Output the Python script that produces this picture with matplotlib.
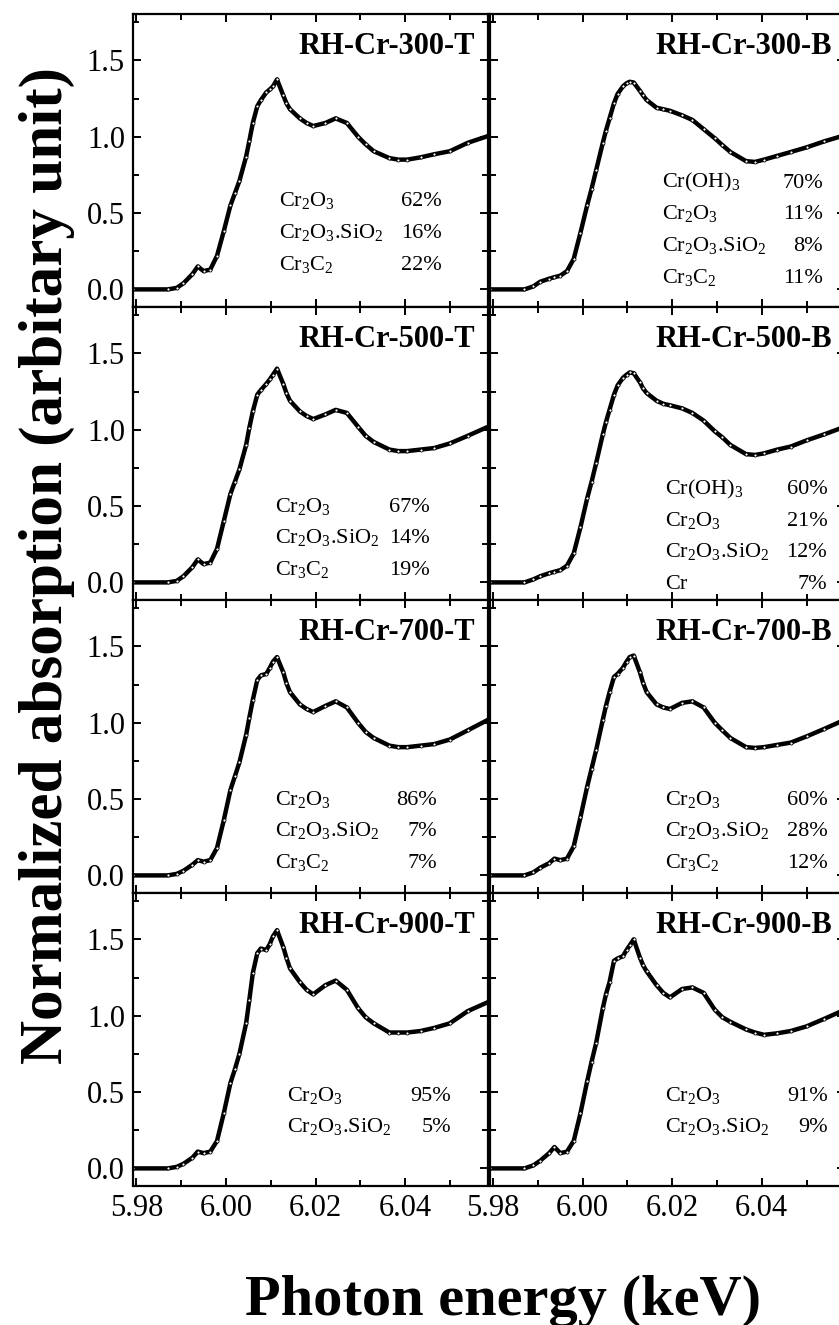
#! /usr/bin/env python3

import matplotlib
matplotlib.use('Agg')
import matplotlib.pyplot as plt
from matplotlib.ticker import MultipleLocator, FormatStrFormatter

plt.rcParams['font.family'] = 'Liberation Serif'
plt.rcParams['mathtext.fontset'] = 'custom'
plt.rcParams['mathtext.rm'] = 'Liberation Serif'
plt.rcParams['mathtext.it'] = 'Liberation Serif:italic'
plt.rcParams['mathtext.bf'] = 'Liberation Serif:bold'

# photon energy grid (keV)
energy = [5.9793, 5.987, 5.989, 5.9905, 5.9925, 5.9937, 5.995, 5.9965, 5.998, 5.9995,
          6.001, 6.002, 6.003, 6.0045, 6.0052, 6.006, 6.007, 6.0078, 6.009, 6.0098,
          6.0105, 6.0114, 6.0128, 6.0135, 6.0143, 6.0165, 6.018, 6.0195, 6.0222, 6.0245,
          6.027, 6.0295, 6.0312, 6.033, 6.0365, 6.0385, 6.0405, 6.0435, 6.0465, 6.05,
          6.054, 6.0586]

mu_300T = [0, 0, 0.01, 0.04, 0.10, 0.15, 0.12, 0.13, 0.22, 0.38,
           0.55, 0.63, 0.71, 0.87, 0.97, 1.09, 1.20, 1.24, 1.29, 1.31,
           1.33, 1.375, 1.27, 1.22, 1.18, 1.12, 1.09, 1.07, 1.09, 1.12,
           1.09, 1.00, 0.95, 0.905, 0.86, 0.85, 0.85, 0.865, 0.885, 0.905,
           0.96, 1.005]
mu_500T = [0, 0, 0.01, 0.04, 0.10, 0.15, 0.12, 0.13, 0.22, 0.40,
           0.58, 0.66, 0.74, 0.90, 1.01, 1.12, 1.23, 1.26, 1.30, 1.33,
           1.36, 1.40, 1.30, 1.24, 1.19, 1.12, 1.09, 1.07, 1.10, 1.13,
           1.11, 1.02, 0.96, 0.92, 0.87, 0.86, 0.86, 0.87, 0.88, 0.91,
           0.96, 1.02]
mu_700T = [0, 0, 0.01, 0.03, 0.07, 0.10, 0.09, 0.10, 0.18, 0.36,
           0.56, 0.65, 0.74, 0.92, 1.03, 1.15, 1.28, 1.31, 1.32, 1.36,
           1.40, 1.43, 1.33, 1.26, 1.20, 1.12, 1.09, 1.07, 1.11, 1.14,
           1.10, 1.00, 0.94, 0.90, 0.85, 0.84, 0.84, 0.85, 0.86, 0.89,
           0.95, 1.02]
mu_900T = [0, 0, 0.01, 0.03, 0.07, 0.11, 0.10, 0.11, 0.18, 0.36,
           0.56, 0.65, 0.75, 0.95, 1.10, 1.28, 1.41, 1.44, 1.43, 1.47,
           1.52, 1.56, 1.45, 1.38, 1.31, 1.22, 1.17, 1.14, 1.20, 1.23,
           1.17, 1.05, 0.99, 0.95, 0.89, 0.89, 0.89, 0.90, 0.92, 0.95,
           1.03, 1.09]
mu_300B = [0, 0, 0.02, 0.05, 0.07, 0.08, 0.09, 0.12, 0.20, 0.37,
           0.55, 0.66, 0.78, 0.96, 1.04, 1.12, 1.22, 1.28, 1.33, 1.35,
           1.36, 1.355, 1.30, 1.27, 1.24, 1.19, 1.18, 1.17, 1.14, 1.11,
           1.05, 0.99, 0.945, 0.90, 0.84, 0.835, 0.85, 0.875, 0.90, 0.93,
           0.97, 1.01]
mu_500B = [0, 0, 0.02, 0.04, 0.06, 0.07, 0.08, 0.11, 0.19, 0.36,
           0.55, 0.66, 0.78, 0.97, 1.05, 1.13, 1.23, 1.29, 1.34, 1.36,
           1.375, 1.37, 1.31, 1.27, 1.24, 1.19, 1.17, 1.16, 1.14, 1.11,
           1.06, 0.99, 0.95, 0.90, 0.84, 0.835, 0.845, 0.87, 0.89, 0.93,
           0.97, 1.02]
mu_700B = [0, 0, 0.02, 0.05, 0.08, 0.11, 0.10, 0.11, 0.19, 0.38,
           0.58, 0.70, 0.82, 1.02, 1.11, 1.20, 1.30, 1.32, 1.36, 1.40,
           1.43, 1.44, 1.33, 1.26, 1.20, 1.12, 1.10, 1.09, 1.13, 1.14,
           1.10, 1.00, 0.95, 0.90, 0.84, 0.835, 0.84, 0.855, 0.87, 0.91,
           0.96, 1.02]
mu_900B = [0, 0, 0.02, 0.05, 0.10, 0.14, 0.10, 0.11, 0.18, 0.36,
           0.57, 0.70, 0.82, 1.05, 1.14, 1.22, 1.36, 1.375, 1.39, 1.43,
           1.46, 1.50, 1.38, 1.33, 1.29, 1.20, 1.15, 1.12, 1.175, 1.185,
           1.15, 1.04, 0.99, 0.96, 0.91, 0.89, 0.875, 0.885, 0.90, 0.93,
           0.98, 1.04]

samples = ['RH-Cr-300-T', 'RH-Cr-300-B', 'RH-Cr-500-T', 'RH-Cr-500-B',
           'RH-Cr-700-T', 'RH-Cr-700-B', 'RH-Cr-900-T', 'RH-Cr-900-B']
spectra = [mu_300T, mu_300B, mu_500T, mu_500B, mu_700T, mu_700B, mu_900T, mu_900B]

CR2O3 = 'Cr$_2$O$_3$'
CR2O3SIO2 = 'Cr$_2$O$_3$.SiO$_2$'
CR3C2 = 'Cr$_3$C$_2$'
CROH3 = 'Cr(OH)$_3$'

phases = [[CR2O3, CR2O3SIO2, CR3C2],
          [CROH3, CR2O3, CR2O3SIO2, CR3C2],
          [CR2O3, CR2O3SIO2, CR3C2],
          [CROH3, CR2O3, CR2O3SIO2, 'Cr'],
          [CR2O3, CR2O3SIO2, CR3C2],
          [CR2O3, CR2O3SIO2, CR3C2],
          [CR2O3, CR2O3SIO2],
          [CR2O3, CR2O3SIO2]]
fractions = [['62%', '16%', '22%'],
             ['70%', '11%', '8%', '11%'],
             ['67%', '14%', '19%'],
             ['60%', '21%', '12%', '7%'],
             ['86%', '7%', '7%'],
             ['60%', '28%', '12%'],
             ['95%', '5%'],
             ['91%', '9%']]

# where each composition block sits (axes fraction): name x, percent right x, first row y
text_pos = [(0.41, 0.87, 0.342), (0.485, 0.938, 0.405),
            (0.40, 0.836, 0.30), (0.493, 0.95, 0.36),
            (0.40, 0.856, 0.30), (0.493, 0.952, 0.30),
            (0.433, 0.895, 0.29), (0.493, 0.952, 0.29)]
row_step = 0.108

fig = plt.figure(figsize=(8.39, 13.25), dpi=100)

W, H = 839.0, 1325.0
left_px = [133.3, 490.0]
panel_w = 355.0
panel_h = 293.0
top0 = 13.5

for i, name in enumerate(samples):
    row, col = i // 2, i % 2
    bottom_px = top0 + panel_h * (row + 1)
    ax = fig.add_axes([left_px[col] / W, 1 - bottom_px / H, panel_w / W, panel_h / H])

    ax.plot(energy, spectra[i], color='black', lw=3.2, solid_joinstyle='round')
    ax.plot(energy, spectra[i], linestyle='none', marker='o', ms=2.2,
            mfc='white', mec='black', mew=0.6)

    ax.set_xlim(5.9793, 6.0586)
    ax.set_ylim(-0.112, 1.807)
    ax.xaxis.set_major_locator(MultipleLocator(0.02))
    ax.xaxis.set_minor_locator(MultipleLocator(0.01))
    ax.yaxis.set_major_locator(MultipleLocator(0.5))
    ax.yaxis.set_minor_locator(MultipleLocator(0.25))
    ax.tick_params(which='both', direction='in', top=True, right=True, width=1.4,
                   labelsize=22, pad=6)
    ax.tick_params(which='major', length=6)
    ax.tick_params(which='minor', length=4)
    for s in ax.spines.values():
        s.set_linewidth(1.6)
    ax.xaxis.set_major_formatter(FormatStrFormatter('%.2f'))
    ax.yaxis.set_major_formatter(FormatStrFormatter('%.1f'))
    if row != 3:
        ax.tick_params(labelbottom=False)
    if col != 0:
        ax.tick_params(labelleft=False)

    ax.text(0.9625, 0.862, name, transform=ax.transAxes, ha='right', va='baseline',
            fontsize=22, fontweight='bold')

    nx, px, y0 = text_pos[i]
    for k, (ph, fr) in enumerate(zip(phases[i], fractions[i])):
        y = y0 - k * row_step
        ax.text(nx, y, ph, transform=ax.transAxes, ha='left', va='baseline', fontsize=16)
        ax.text(px, y, fr, transform=ax.transAxes, ha='right', va='baseline', fontsize=16)

fig.text(0.056, 0.573, 'Normalized absorption (arbitary unit)', rotation=90,
         ha='center', va='center', fontsize=44, fontweight='bold')
fig.text(0.60, 0.0075, 'Photon energy (keV)', ha='center', va='baseline',
         fontsize=42, fontweight='bold')

fig.savefig('out.png', dpi=100)
